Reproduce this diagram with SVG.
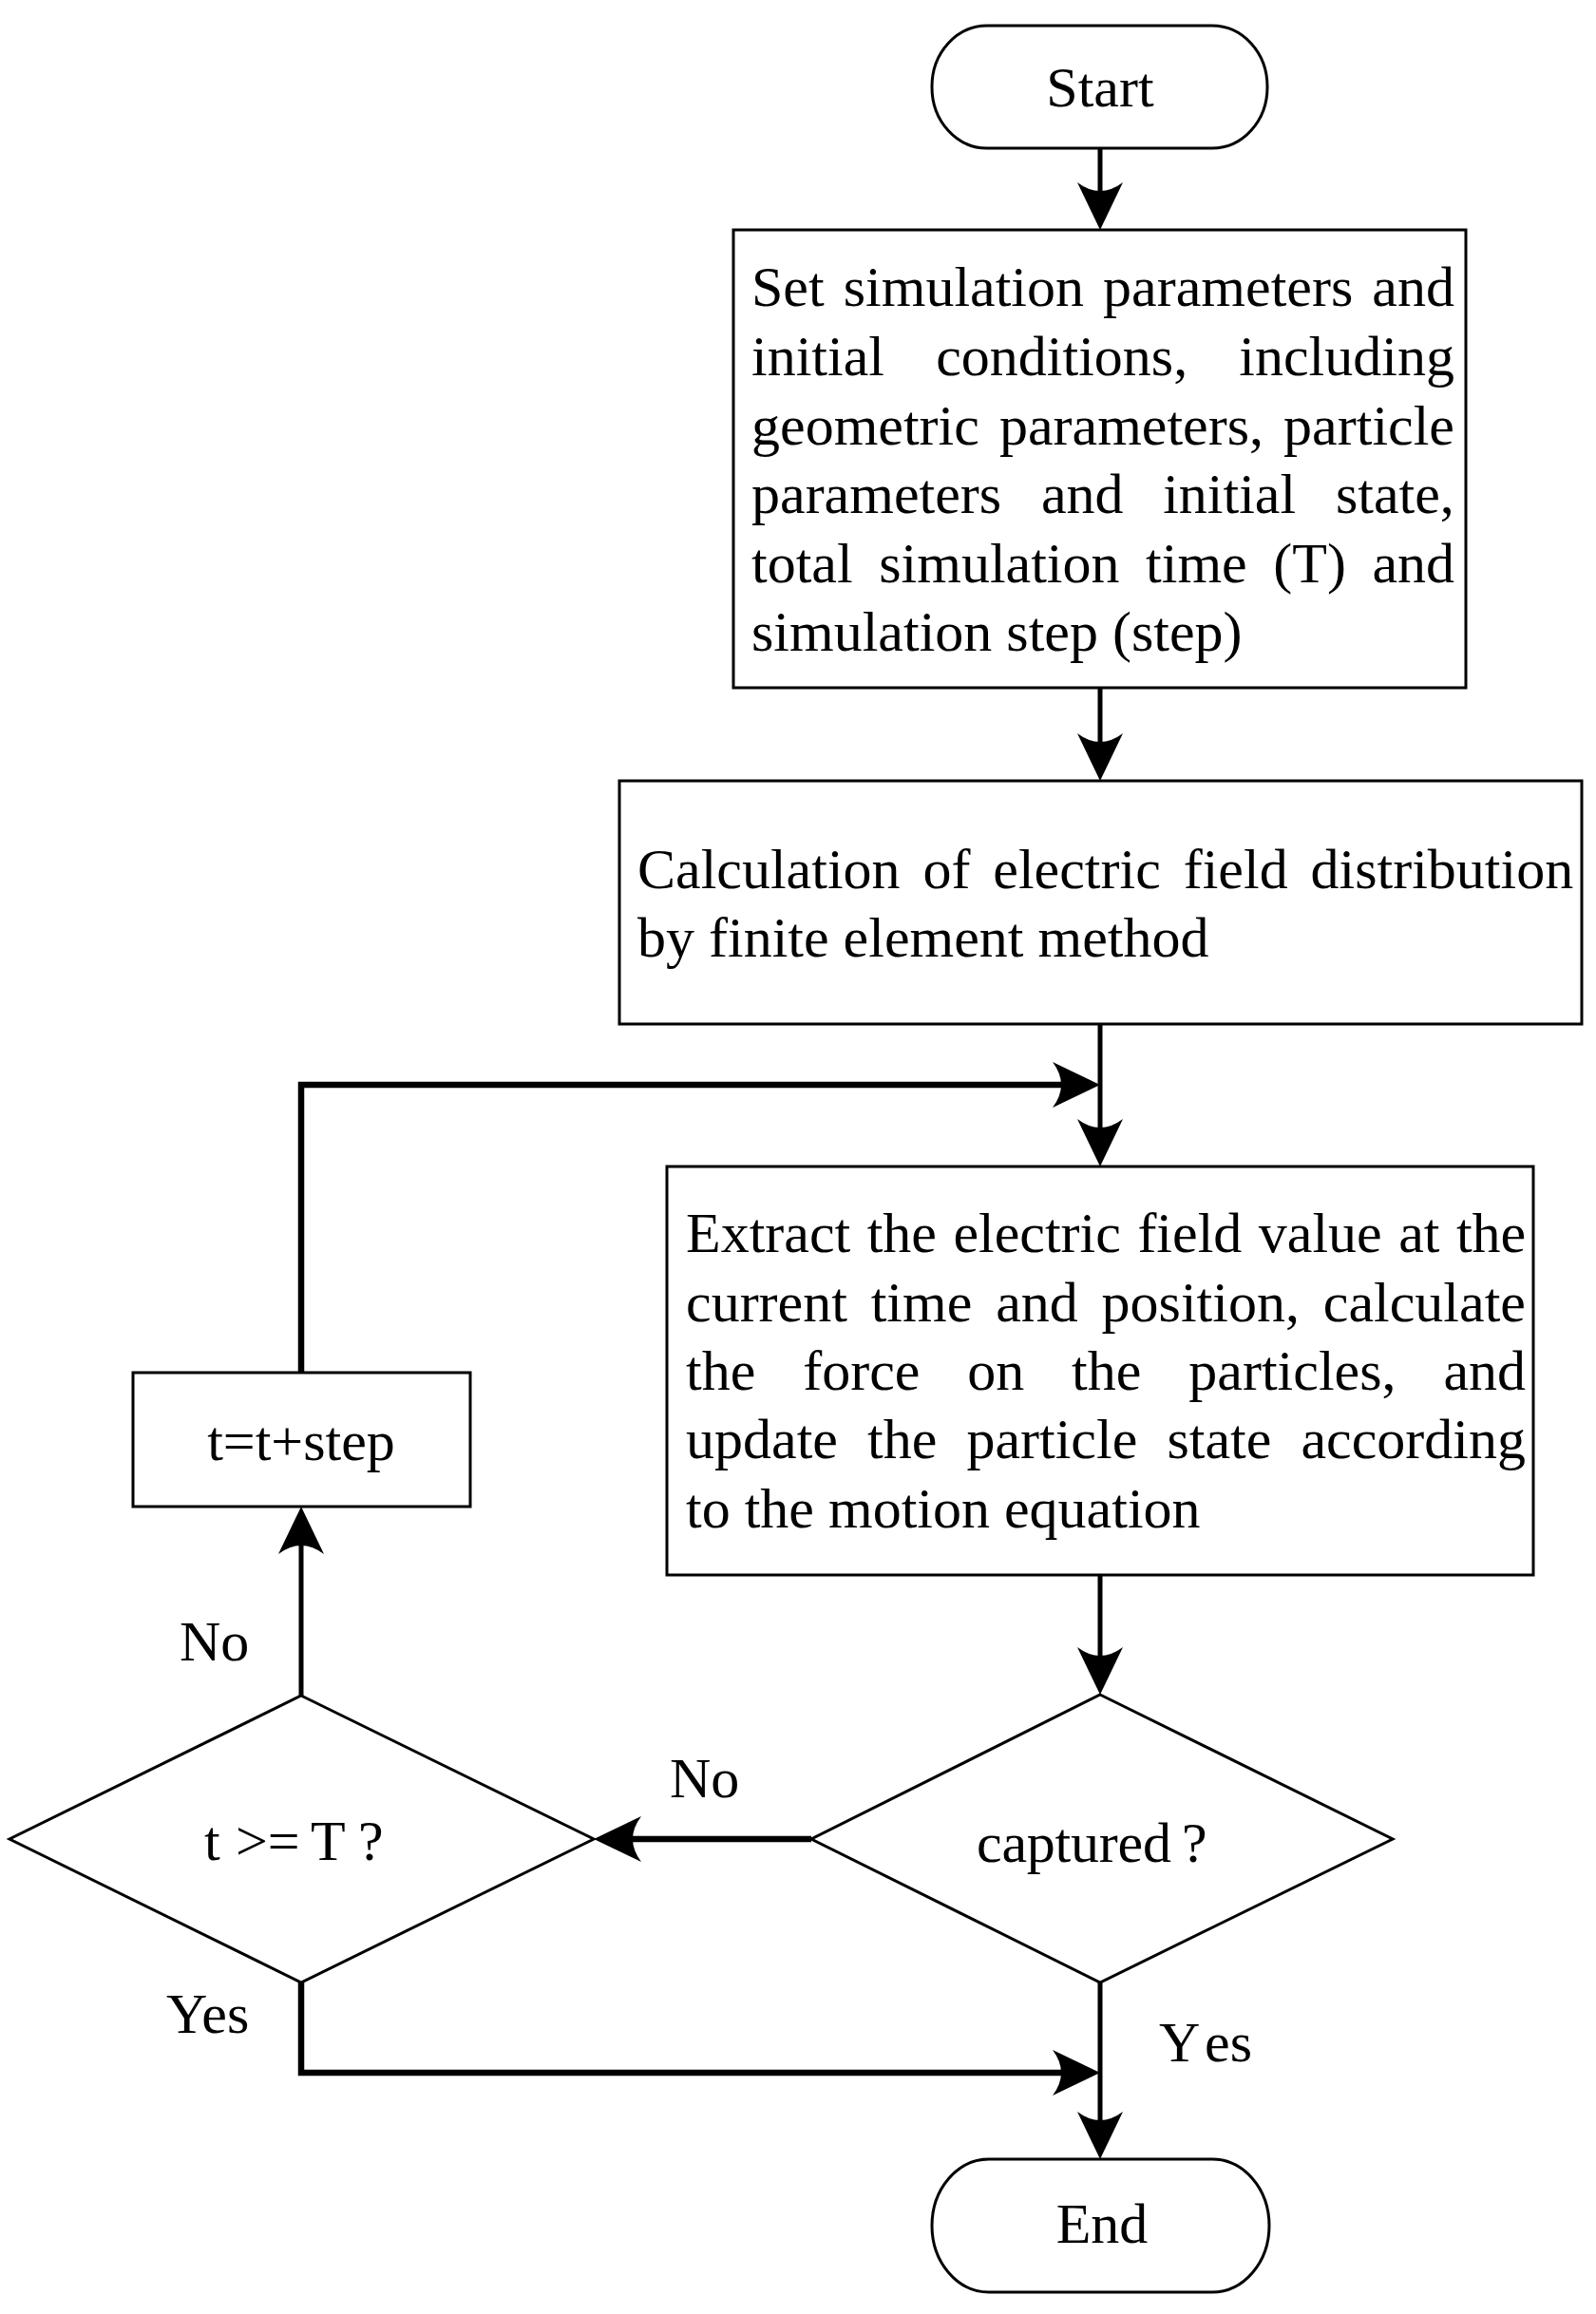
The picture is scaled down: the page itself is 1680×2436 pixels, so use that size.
<svg xmlns="http://www.w3.org/2000/svg" width="1680" height="2436" viewBox="0 0 1680 2436">
<defs>
<style>
.n{fill:#fff;stroke:#000;stroke-width:3}
.t{font-family:"Liberation Serif","Times New Roman",serif;font-size:60px;fill:#000}
.m{text-anchor:middle}
.c{fill:none;stroke:#000;stroke-width:5}
.h{stroke-width:6.5}
</style>
<marker id="arr" markerUnits="userSpaceOnUse" markerWidth="50" markerHeight="50" viewBox="-50 -25 50 50" refX="-30" refY="0" orient="auto">
<path d="M0,0 L-50,-24 Q-32,0 -50,24 Z" fill="#000"/>
</marker>
</defs>
<rect width="1680" height="2436" fill="#fff"/>

<g id="connectors">
<path class="c" d="M1158,156 V212" marker-end="url(#arr)"/>
<path class="c" d="M1158,724 V792" marker-end="url(#arr)"/>
<path class="c" d="M1158,1078 V1198" marker-end="url(#arr)"/>
<path class="c h" d="M317,1445 V1142 H1128" marker-end="url(#arr)"/>
<path class="c" d="M1158,1658 V1754" marker-end="url(#arr)"/>
<path class="c h" d="M854,1936 H655" marker-end="url(#arr)"/>
<path class="c" d="M317,1785 V1616" marker-end="url(#arr)"/>
<path class="c h" d="M317,2087 V2182 H1128" marker-end="url(#arr)"/>
<path class="c" d="M1158,2087 V2243" marker-end="url(#arr)"/>
</g>

<g id="start">
<rect class="n" x="981" y="27" width="353" height="129" rx="58" ry="64"/>
<text class="t m" x="1158" y="112">Start</text>
</g>

<g id="setup">
<rect class="n" x="772" y="242" width="771" height="482"/>
<text class="t">
<tspan x="791" y="322">Set</tspan><tspan x="887.7" y="322">simulation</tspan><tspan x="1161.1" y="322">parameters</tspan><tspan x="1444.3" y="322">and</tspan>
<tspan x="791" y="395">initial</tspan><tspan x="985.2" y="395">conditions,</tspan><tspan x="1304.3" y="395">including</tspan>
<tspan x="791" y="468">geometric</tspan><tspan x="1051.9" y="468">parameters,</tspan><tspan x="1351.1" y="468">particle</tspan>
<tspan x="791" y="540">parameters</tspan><tspan x="1095.9" y="540">and</tspan><tspan x="1224.2" y="540">initial</tspan><tspan x="1405.9" y="540">state,</tspan>
<tspan x="791" y="613">total</tspan><tspan x="925.2" y="613">simulation</tspan><tspan x="1206.1" y="613">time</tspan><tspan x="1340.3" y="613">(T)</tspan><tspan x="1444.4" y="613">and</tspan>
<tspan x="791" y="685">simulation step (step)</tspan>
</text>
</g>

<g id="fem">
<rect class="n" x="652" y="822" width="1013" height="256"/>
<text class="t">
<tspan x="671" y="935">Calculation</tspan><tspan x="971.5" y="935">of</tspan><tspan x="1045.3" y="935">electric</tspan><tspan x="1245.7" y="935">field</tspan><tspan x="1379.5" y="935">distribution</tspan>
<tspan x="671" y="1007">by finite element method</tspan>
</text>
</g>

<g id="update">
<rect class="n" x="702" y="1228" width="912" height="430"/>
<text class="t">
<tspan x="722" y="1318">Extract</tspan><tspan x="912.7" y="1318">the</tspan><tspan x="1003.4" y="1318">electric</tspan><tspan x="1197.4" y="1318">field</tspan><tspan x="1324.8" y="1318">value</tspan><tspan x="1472.2" y="1318">at</tspan><tspan x="1532.9" y="1318">the</tspan>
<tspan x="722" y="1391">current</tspan><tspan x="916.7" y="1391">time</tspan><tspan x="1048.2" y="1391">and</tspan><tspan x="1159.6" y="1391">position,</tspan><tspan x="1392.8" y="1391">calculate</tspan>
<tspan x="722" y="1463">the</tspan><tspan x="845.2" y="1463">force</tspan><tspan x="1018.3" y="1463">on</tspan><tspan x="1128.1" y="1463">the</tspan><tspan x="1251.3" y="1463">particles,</tspan><tspan x="1519.4" y="1463">and</tspan>
<tspan x="722" y="1535">update</tspan><tspan x="913.1" y="1535">the</tspan><tspan x="1017.4" y="1535">particle</tspan><tspan x="1228.4" y="1535">state</tspan><tspan x="1369.4" y="1535">according</tspan>
<tspan x="722" y="1608">to the motion equation</tspan>
</text>
</g>

<g id="step">
<rect class="n" x="140" y="1445" width="355" height="141"/>
<text class="t m" x="317" y="1537">t=t+step</text>
</g>

<g id="timecheck">
<polygon class="n" points="317,1785 625,1936 317,2087 10,1936"/>
<text class="t" y="1958"><tspan x="215">t</tspan><tspan x="248">&gt;=</tspan><tspan x="327">T</tspan><tspan x="377">?</tspan></text>
</g>

<g id="captured">
<polygon class="n" points="1158,1784 1466,1936 1158,2087 854,1936"/>
<text class="t" y="1960"><tspan x="1028" textLength="205" lengthAdjust="spacing">captured</tspan><tspan x="1244">?</tspan></text>
</g>

<g id="end">
<rect class="n" x="981" y="2273" width="355" height="140" rx="60" ry="70"/>
<text class="t m" x="1160" y="2361">End</text>
</g>

<g id="labels">
<text class="t" x="189" y="1748">No</text>
<text class="t" x="705" y="1892">No</text>
<text class="t" x="175" y="2140">Yes</text>
<text class="t" y="2170"><tspan x="1220">Y</tspan><tspan x="1268">es</tspan></text>
</g>
</svg>
